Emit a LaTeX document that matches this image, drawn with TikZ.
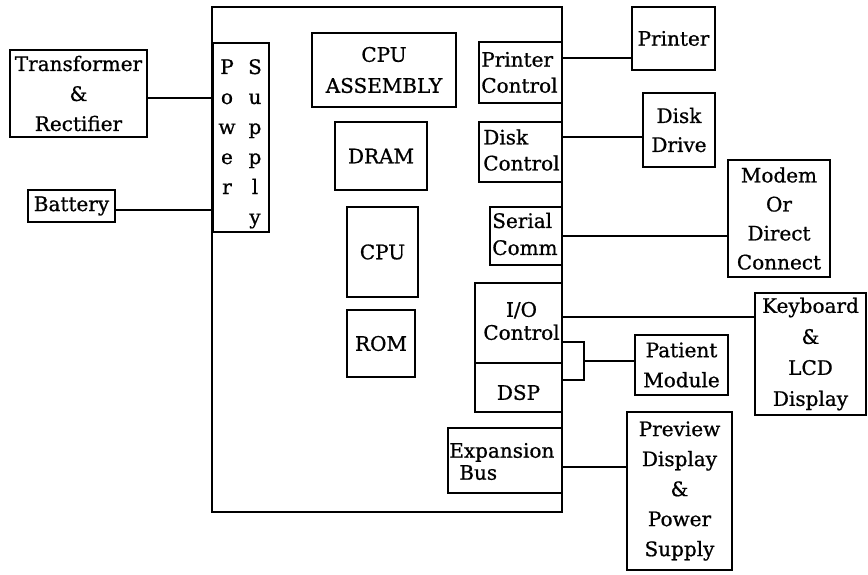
\documentclass[tikz,border=0pt]{standalone}
\usepackage{fontspec}
\setmainfont{DejaVu Serif}[FakeBold=0.8]
\usetikzlibrary{calc}
\tikzset{
  blk/.style={draw, line width=1.8pt, inner sep=0pt, align=center, font=\fontsize{20}{30}\selectfont},
  txt/.style={inner sep=0pt, font=\fontsize{20}{30}\selectfont},
  sz/.style 2 args={minimum width=#1pt, minimum height=#2pt},
  wire/.style={line width=1.8pt},
}

\begin{document}
\begin{tikzpicture}[x=1pt,y=-1pt]
  \useasboundingbox (0,0) rectangle (868,575);

  % main board
  \node[blk, sz={350}{505}] (board) at (387,259.5) {};

  % power supply
  \node[blk, sz={56}{189}] (psu) at (241,137.5) {};
  \foreach \ch [count=\i] in {P,o,w,e,r}
    \node[txt, anchor=base] (pw\i) at (227,{74+30*(\i-1)}) {\ch};
  \foreach \ch [count=\i] in {S,u,p,p,l,y}
    \node[txt, anchor=base] (sp\i) at (255,{74+30*(\i-1)}) {\ch};

  \node[blk, sz={137}{87}] (trans) at (78.5,93.5) {Transformer\\\&\\Rectifier};
  \node[blk, sz={87}{32}] (batt) at (71.5,206) {Battery};

  % processor blocks
  \node[blk, sz={144}{74}, font=\fontsize{20}{31}\selectfont] (cpuasm) at (384,70) {CPU\\ASSEMBLY};
  \node[blk, sz={92}{68}] (dram) at (381,156) {DRAM};
  \node[blk, sz={71}{90}] (cpu) at (382.5,252) {CPU};
  \node[blk, sz={68}{67}] (rom) at (381,343.5) {ROM};

  % controllers on the board edge
  \begin{scope}
    \clip (board.north west) rectangle (board.south east);
    \node[blk, sz={83}{61}] (prtctl) at (520.5,72.5) {};
    \node[txt, anchor=west, align=left, font=\fontsize{20}{26}\selectfont] (prtctl-t) at ([xshift=3pt]prtctl.west) {Printer\\Control};
    \node[blk, sz={83}{60}] (dskctl) at (520.5,152) {};
    \node[txt, anchor=west, align=left, font=\fontsize{20}{26}\selectfont] (dskctl-t) at ([xshift=5pt,yshift=2pt]dskctl.west) {Disk\\Control};
    \node[blk, sz={72}{58}] (sercom) at (526,236) {};
    \node[txt, anchor=west, align=left, font=\fontsize{20}{27}\selectfont] (sercom-t) at ([xshift=3pt,yshift=2pt]sercom.west) {Serial\\Comm};
    \node[blk, sz={87}{80}] (ioctl) at (518.5,323) {};
    \node[txt, align=center, font=\fontsize{20}{23}\selectfont] (ioctl-t) at ([xshift=3pt,yshift=2pt]ioctl.center) {I/O\\Control};
    \node[blk, sz={87}{49}] (dsp) at (518.5,387.5) {};
    \node[txt] (dsp-t) at ([yshift=-5pt]dsp.center) {DSP};
    \node[blk, sz={114}{65}] (expbus) at (505,460.5) {};
    \node[txt, anchor=west, align=left, font=\fontsize{20}{22}\selectfont] (expbus-t) at ([xshift=2pt,yshift=-1pt]expbus.west) {Expansion\\\hspace*{10pt}Bus};
  \end{scope}

  % peripherals
  \node[blk, sz={83}{63}] (printer) at (673.5,38.5) {Printer};
  \node[blk, sz={72}{74}, font=\fontsize{20}{29}\selectfont] (disk) at (679,130) {Disk\\Drive};
  \node[blk, sz={102}{117}, font=\fontsize{20}{29}\selectfont] (modem) at (779,218.5) {Modem\\Or\\Direct\\Connect};
  \node[blk, sz={111}{122}, font=\fontsize{20}{31}\selectfont] (kbd) at (810.5,354) {Keyboard\\\&\\LCD\\Display};
  \node[blk, sz={93}{60}] (patient) at (681.5,365) {Patient\\Module};
  \node[blk, sz={105}{158}] (preview) at (679.5,491) {Preview\\Display\\\&\\Power\\Supply};

  % connections
  \coordinate (tie) at (584,361);
  \draw[wire] ([yshift=-4.5pt]trans.east) -- ([yshift=-4.5pt]trans.east -| psu.west);
  \draw[wire] ([yshift=-4pt]batt.east) -- ([yshift=-4pt]batt.east -| psu.west);
  \draw[wire] ([yshift=14.5pt]prtctl.east) -- ([yshift=14.5pt]prtctl.east -| printer.west);
  \draw[wire] ([yshift=15pt]dskctl.east) -- ([yshift=15pt]dskctl.east -| disk.west);
  \draw[wire] (sercom.east) -- (sercom.east -| modem.west);
  \draw[wire] ([yshift=6pt]ioctl.east) -- ([yshift=6pt]ioctl.east -| kbd.west);
  \draw[wire] ([yshift=-19pt]ioctl.east) -| (tie) |- ([yshift=7.5pt]dsp.east);
  \draw[wire] (tie) -- (tie -| patient.west);
  \draw[wire] ([yshift=-6.5pt]expbus.east) -- ([yshift=-6.5pt]expbus.east -| preview.west);
\end{tikzpicture}
\end{document}
